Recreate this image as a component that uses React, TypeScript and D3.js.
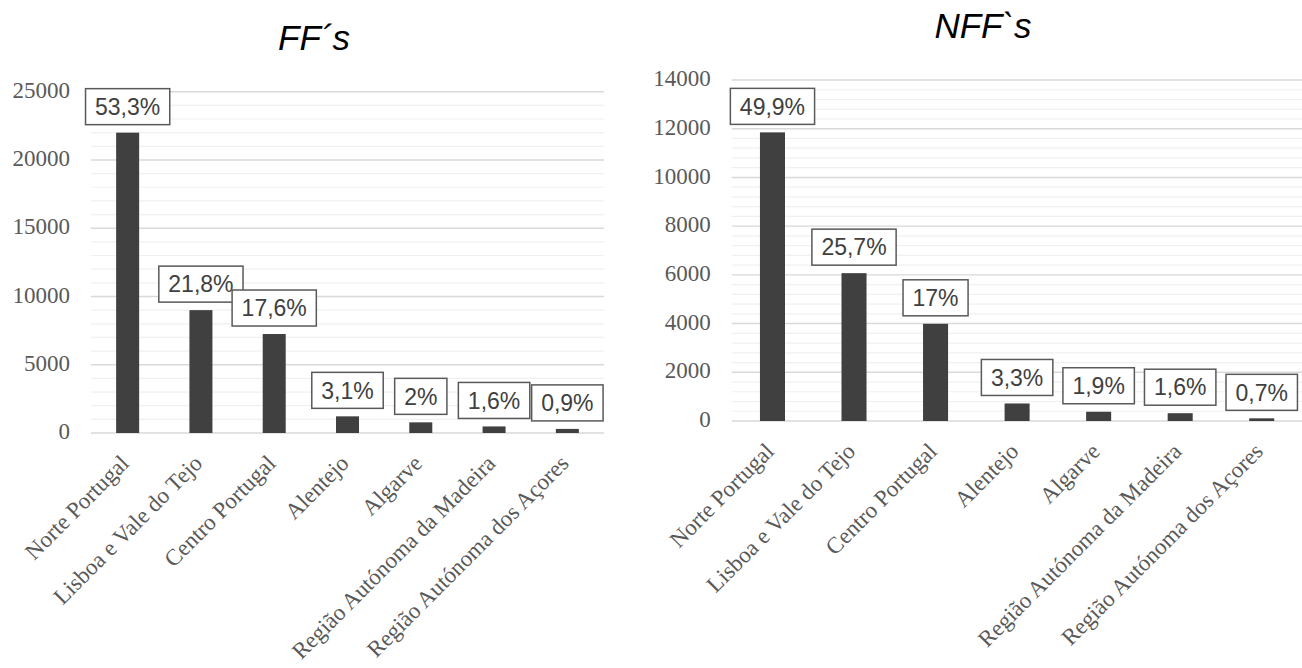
import React, { useEffect, useRef } from 'react';
import * as d3 from 'd3';

// Regions (NUTS II) shown on both panels
const regions = [
  'Norte Portugal',
  'Lisboa e Vale do Tejo',
  'Centro Portugal',
  'Alentejo',
  'Algarve',
  'Região Autónoma da Madeira',
  'Região Autónoma dos Açores',
];

// FF´s counts per region and their share labels
const ffValues = [22000, 9000, 7250, 1220, 780, 480, 300];
const ffShares = ['53,3%', '21,8%', '17,6%', '3,1%', '2%', '1,6%', '0,9%'];
const ffTicks = [0, 5000, 10000, 15000, 20000, 25000];

// NFF`s counts per region and their share labels
const nffValues = [11850, 6070, 3990, 720, 380, 320, 110];
const nffShares = ['49,9%', '25,7%', '17%', '3,3%', '1,9%', '1,6%', '0,7%'];
const nffTicks = [0, 2000, 4000, 6000, 8000, 10000, 12000, 14000];

interface Panel {
  title: string;
  titleX: number;
  titleY: number;
  left: number;
  right: number;
  top: number;
  bottom: number;
  values: number[];
  shares: string[];
  ticks: number[];
  minorStep: number;
  padding: number;
}

const panels: Panel[] = [
  {
    title: 'FF´s',
    titleX: 314,
    titleY: 50,
    left: 91,
    right: 604,
    top: 91.7,
    bottom: 433,
    values: ffValues,
    shares: ffShares,
    ticks: ffTicks,
    minorStep: 1000,
    padding: 0.686,
  },
  {
    title: 'NFF`s',
    titleX: 983,
    titleY: 38,
    left: 731.7,
    right: 1302.5,
    top: 80,
    bottom: 421,
    values: nffValues,
    shares: nffShares,
    ticks: nffTicks,
    minorStep: 400,
    padding: 0.693,
  },
];

const SERIF = '"Liberation Serif", "Times New Roman", serif';
const SANS = '"Liberation Sans", Arial, sans-serif';

function drawPanel(root: d3.Selection<SVGGElement, unknown, null, undefined>, p: Panel) {
  const maxTick = p.ticks[p.ticks.length - 1];
  const y = d3.scaleLinear().domain([0, maxTick]).range([p.bottom, p.top]);
  const x = d3
    .scaleBand<string>()
    .domain(regions)
    .range([p.left, p.right])
    .paddingInner(p.padding)
    .paddingOuter(p.padding / 2);

  const g = root.append('g');

  // title
  g.append('text')
    .attr('x', p.titleX)
    .attr('y', p.titleY)
    .attr('text-anchor', 'middle')
    .style('font-family', SANS)
    .style('font-style', 'italic')
    .style('font-size', '35px')
    .attr('fill', '#000')
    .text(p.title);

  // minor gridlines
  const minor = d3.range(0, maxTick + 1, p.minorStep).filter((v) => !p.ticks.includes(v));
  g.append('g')
    .selectAll('line')
    .data(minor)
    .join('line')
    .attr('x1', p.left)
    .attr('x2', p.right)
    .attr('y1', (d) => y(d))
    .attr('y2', (d) => y(d))
    .attr('stroke', '#f0f0f0')
    .attr('stroke-width', 1.2);

  // major gridlines
  g.append('g')
    .selectAll('line')
    .data(p.ticks)
    .join('line')
    .attr('x1', p.left)
    .attr('x2', p.right)
    .attr('y1', (d) => y(d))
    .attr('y2', (d) => y(d))
    .attr('stroke', '#d9d9d9')
    .attr('stroke-width', 1.4);

  // y tick labels
  g.append('g')
    .selectAll('text')
    .data(p.ticks)
    .join('text')
    .attr('x', p.left - 21)
    .attr('y', (d) => y(d))
    .attr('dy', '0.27em')
    .attr('text-anchor', 'end')
    .style('font-family', SERIF)
    .style('font-size', '23px')
    .attr('fill', '#595959')
    .text((d) => String(d));

  // bars
  g.append('g')
    .selectAll('rect')
    .data(p.values)
    .join('rect')
    .attr('x', (_, i) => x(regions[i])!)
    .attr('width', x.bandwidth())
    .attr('y', (d) => y(d))
    .attr('height', (d) => p.bottom - y(d))
    .attr('fill', '#404040');

  // boxed share labels above bars
  p.values.forEach((v, i) => {
    const cx = x(regions[i])! + x.bandwidth() / 2;
    const boxBottom = y(v) - 8;
    const boxH = 36;
    const lg = g.append('g');
    const rect = lg.append('rect');
    const t = lg
      .append('text')
      .attr('x', cx)
      .attr('y', boxBottom - boxH / 2)
      .attr('dy', '0.36em')
      .attr('text-anchor', 'middle')
      .style('font-family', SANS)
      .style('font-size', '23px')
      .attr('fill', '#404040')
      .text(p.shares[i]);
    const w = (t.node() as SVGTextElement).getComputedTextLength() + 19;
    rect
      .attr('x', cx - w / 2)
      .attr('y', boxBottom - boxH)
      .attr('width', w)
      .attr('height', boxH)
      .attr('fill', '#fff')
      .attr('stroke', '#595959')
      .attr('stroke-width', 1.5);
  });

  // rotated category labels
  g.append('g')
    .selectAll('text')
    .data(regions)
    .join('text')
    .attr('transform', (d) => `translate(${x(d)! + x.bandwidth() / 2 - 3},${p.bottom + 26}) rotate(-45)`)
    .attr('dy', '0.35em')
    .attr('text-anchor', 'end')
    .style('font-family', SERIF)
    .style('font-size', '23px')
    .attr('fill', '#595959')
    .text((d) => d);
}

export default function App() {
  const ref = useRef<SVGSVGElement>(null);

  useEffect(() => {
    const svg = d3.select(ref.current!);
    svg.selectAll('*').remove();
    const root = svg.append('g');
    panels.forEach((p) => drawPanel(root, p));
  }, []);

  return (
    <svg
      ref={ref}
      width={1302}
      height={668}
      style={{ position: 'absolute', left: 0, top: 0, background: '#fff', display: 'block' }}
    />
  );
}
